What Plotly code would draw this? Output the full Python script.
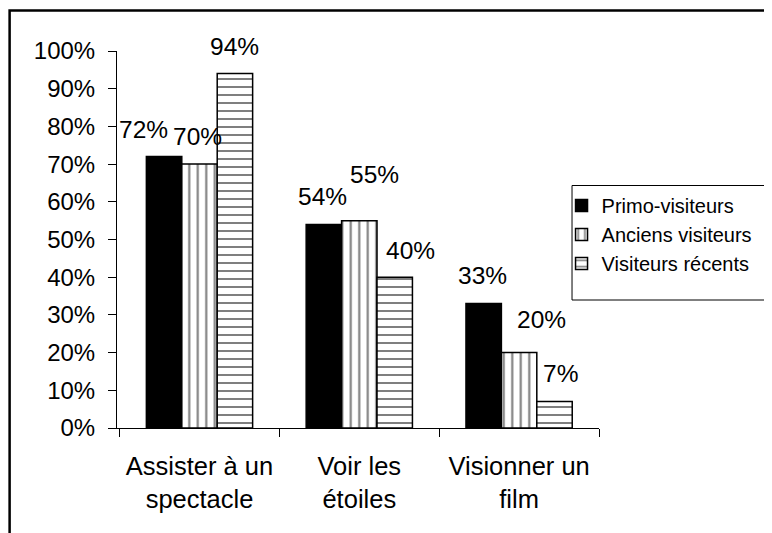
import plotly.graph_objects as go

# ---- data ----
categories = ["Assister à un<br>spectacle", "Voir les<br>étoiles", "Visionner un<br>film"]
series_names = ["Primo-visiteurs", "Anciens visiteurs", "Visiteurs récents"]
primo = [0.72, 0.54, 0.33]
anciens = [0.70, 0.55, 0.20]
recents = [0.94, 0.40, 0.07]
y_ticks = [0, 0.1, 0.2, 0.3, 0.4, 0.5, 0.6, 0.7, 0.8, 0.9, 1.0]

# ---- layout constants (page body has an 8px margin) ----
OFF = 8
W, H = 772 - OFF, 533 - OFF
ML = 117 - OFF
PLOT_RIGHT = 599.5 - OFF
MT = 51 - OFF
PLOT_BOTTOM = 428 - OFF
MR = W - PLOT_RIGHT
MB = H - PLOT_BOTTOM
PW, PH = W - ML - MR, H - MT - MB
FONT = "Liberation Sans, Arial, sans-serif"

def px_x(page_x):
    return (page_x - OFF - ML) / PW

def px_y(page_y):
    return (PLOT_BOTTOM - (page_y - OFF)) / PH

series_values = [primo, anciens, recents]
styles = [
    dict(color="black", line=dict(color="black", width=1.5)),
    dict(color="white", line=dict(color="black", width=1.5),
         pattern=dict(shape="|", size=8.5, solidity=0.25, fgcolor="black",
                      bgcolor="white", fillmode="overlay")),
    dict(color="white", line=dict(color="black", width=1.5),
         pattern=dict(shape="-", size=8, solidity=0.25, fgcolor="black",
                      bgcolor="white", fillmode="overlay")),
]
# label offsets (xshift, yshift) in px, per series per category
label_offsets = [
    [(-56, 27), (-37, 28), (-37, 28)],
    [(-2, 28), (15, 46), (22, 33)],
    [(35, 27), (51, 27), (41, 28)],
]

fig = go.Figure()
annotations = []
for s, (name, vals, st) in enumerate(zip(series_names, series_values, styles)):
    fig.add_trace(go.Bar(x=categories, y=vals, name=name, marker=st,
                         hoverinfo="skip"))
    for c, v in enumerate(vals):
        dx, dy = label_offsets[s][c]
        annotations.append(dict(
            x=categories[c], y=v, xref="x", yref="y",
            text=f"{round(v * 100)}%", showarrow=False,
            xshift=dx, yshift=dy, yanchor="middle", xanchor="center",
            font=dict(family=FONT, size=24.5, color="black")))

shapes = [
    # outer chart frame (extends beyond the window on right/bottom)
    dict(type="rect", xref="paper", yref="paper",
         x0=px_x(9.5), x1=px_x(820), y0=px_y(580), y1=px_y(10.5),
         line=dict(color="black", width=2.5), fillcolor="rgba(0,0,0,0)",
         layer="above"),
    # legend frame
    dict(type="rect", xref="paper", yref="paper",
         x0=px_x(572.5), x1=px_x(800), y0=px_y(300), y1=px_y(185.5),
         line=dict(color="black", width=1), fillcolor="rgba(0,0,0,0)",
         layer="above"),
]

fig.update_layout(
    width=W, height=H,
    margin=dict(l=ML, r=MR, t=MT, b=MB, pad=0),
    paper_bgcolor="white", plot_bgcolor="white",
    barmode="group", bargap=0.335, bargroupgap=0,
    font=dict(family=FONT, color="black"),
    showlegend=True,
    legend=dict(x=px_x(562), y=px_y(186), xanchor="left", yanchor="top",
                bgcolor="rgba(0,0,0,0)", borderwidth=0,
                font=dict(family=FONT, size=20, color="black"),
                itemwidth=30, tracegroupgap=0),
    annotations=annotations,
    shapes=shapes,
)
fig.update_xaxes(
    type="category", showline=True, linecolor="black", linewidth=1,
    ticks="outside", tickson="boundaries", ticklen=8, tickcolor="black",
    tickfont=dict(family=FONT, size=25.5, color="black"),
    showgrid=False, zeroline=False, ticklabelstandoff=15,
)
fig.update_yaxes(
    range=[0, 1], tickvals=y_ticks, tickformat=".0%",
    showline=True, linecolor="black", linewidth=1,
    ticks="outside", ticklen=8, tickcolor="black",
    tickfont=dict(family=FONT, size=24, color="black"),
    showgrid=False, zeroline=False, ticklabelstandoff=8,
)

fig.write_html("out.html")
